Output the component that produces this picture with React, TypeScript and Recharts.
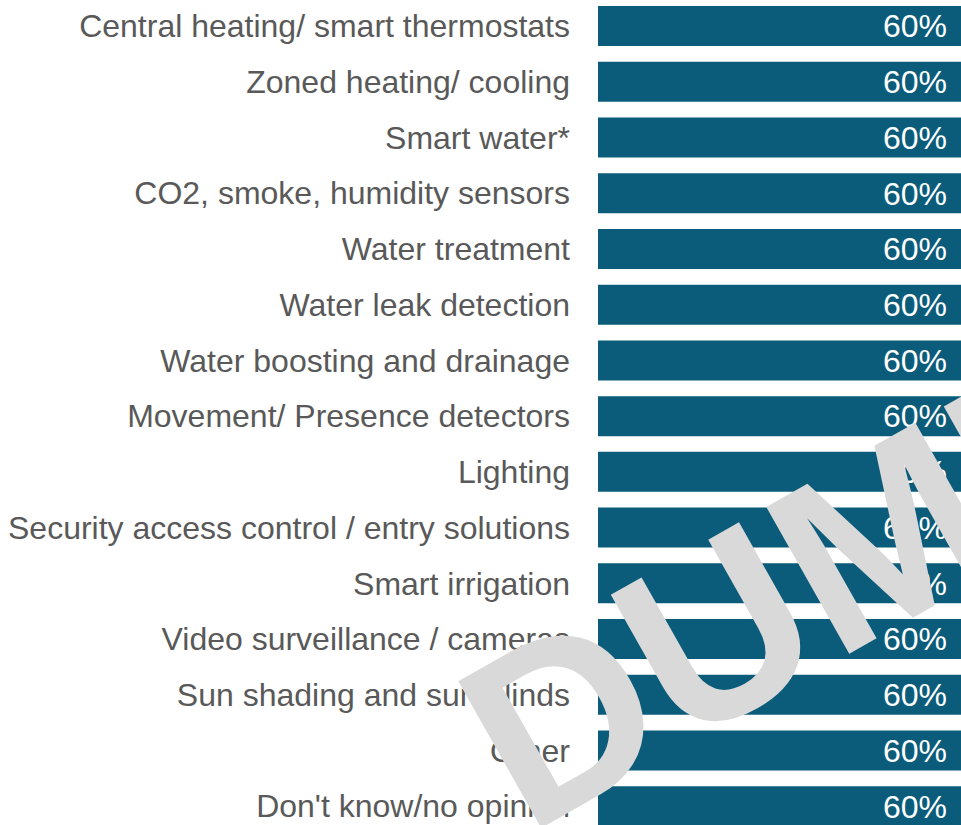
import React from "react";
import { BarChart, Bar, XAxis, YAxis, LabelList } from "recharts";

const categories = [
  "Central heating/ smart thermostats",
  "Zoned heating/ cooling",
  "Smart water*",
  "CO2, smoke, humidity sensors",
  "Water treatment",
  "Water leak detection",
  "Water boosting and drainage",
  "Movement/ Presence detectors",
  "Lighting",
  "Security access control / entry solutions",
  "Smart irrigation",
  "Video surveillance / cameras",
  "Sun shading and sun blinds",
  "Other",
  "Don't know/no opinion",
];

const values = [60, 60, 60, 60, 60, 60, 60, 60, 60, 60, 60, 60, 60, 60, 60];

const watermarkText = "DUMMY";

const data = categories.map((name, i) => ({ name, value: values[i] }));

const FONT = "'Liberation Sans', Arial, sans-serif";

export default function App() {
  return (
    <div
      style={{
        position: "absolute",
        left: 0,
        top: 0,
        width: 961,
        height: 825,
        overflow: "hidden",
        background: "#ffffff",
      }}
    >
      <div style={{ position: "absolute", left: 0, top: -2 }}>
        <BarChart
          width={961}
          height={836}
          data={data}
          layout="vertical"
          margin={{ top: 0, right: 0, bottom: 0, left: 0 }}
        >
          <XAxis type="number" domain={[0, 60]} hide />
          <YAxis
            type="category"
            dataKey="name"
            width={598}
            axisLine={false}
            tickLine={false}
            tickSize={0}
            tickMargin={28}
            interval={0}
            tick={{ fill: "#595959", fontSize: 32, fontFamily: FONT }}
          />
          <Bar dataKey="value" fill="#0B5C7A" barSize={40} isAnimationActive={false}>
            <LabelList
              dataKey="value"
              position="insideRight"
              offset={14}
              formatter={(v: any) => `${v}%`}
              style={{ fill: "#ffffff", fontSize: 32, fontFamily: FONT }}
            />
          </Bar>
        </BarChart>
      </div>
      <svg
        width={961}
        height={825}
        style={{ position: "absolute", left: 0, top: 0, pointerEvents: "none" }}
      >
        <text
          x={527}
          y={836}
          transform="rotate(-29.5 527 836)"
          fill="#D9D9D9"
          fontSize={245}
          fontWeight="bold"
          fontFamily={FONT}
        >
          {watermarkText}
        </text>
      </svg>
    </div>
  );
}
